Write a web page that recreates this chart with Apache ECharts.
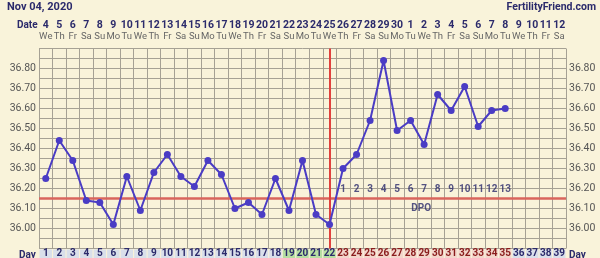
<!DOCTYPE html>
<html><head><meta charset="utf-8">
<style>html,body{margin:0;padding:0;background:#f9f3da;}#c{width:600px;height:258px;}</style>
<script src="https://cdn.jsdelivr.net/npm/echarts@6/dist/echarts.min.js"></script>
</head><body><div id="c"></div>
<script>
var cycleDays = [1,2,3,4,5,6,7,8,9,10,11,12,13,14,15,16,17,18,19,20,21,22,23,24,25,26,27,28,29,30,31,32,33,34,35,36,37,38,39];
var dates = ['4','5','6','7','8','9','10','11','12','13','14','15','16','17','18','19','20','21','22','23','24','25','26','27','28','29','30','1','2','3','4','5','6','7','8','9','10','11','12'];
var weekdays = ['We','Th','Fr','Sa','Su','Mo','Tu','We','Th','Fr','Sa','Su','Mo','Tu','We','Th','Fr','Sa','Su','Mo','Tu','We','Th','Fr','Sa','Su','Mo','Tu','We','Th','Fr','Sa','Su','Mo','Tu','We','Th','Fr','Sa'];
var temps = [36.25,36.44,36.34,36.14,36.13,36.02,36.26,36.09,36.28,36.37,36.26,36.21,36.34,36.27,36.10,36.13,36.07,36.25,36.09,36.34,36.07,36.02,36.30,36.37,36.54,36.84,36.49,36.54,36.42,36.67,36.59,36.71,36.51,36.59,36.60];
var dpoLabels = ['1','2','3','4','5','6','7','8','9','10','11','12','13'];
var dpoStartDay = 23;
var ovulationDay = 22;
var coverline = 36.15;
var fertileDays = [19,20,21,22];
var lutealEnd = 35;
var yTickLabels = ['36.00','36.10','36.20','36.30','36.40','36.50','36.60','36.70','36.80'];

var navy = '#2b2a6b';
var cats = cycleDays.map(String);
var dayRow = cycleDays.map(function(d){
  var bg = '#d9dfea', fc = navy;
  if (fertileDays.indexOf(d) >= 0) { bg = '#b7dea2'; }
  else if (d > ovulationDay && d <= lutealEnd) { bg = '#f3d6cc'; fc = '#8a1c1c'; }
  return {value: 1, itemStyle: {color: bg}, label: {color: fc}};
});
var dpoData = dpoLabels.map(function(t, i){ return {value: [String(dpoStartDay + i), 36.195], name: t}; });

var chart = echarts.init(document.getElementById('c'), null, {renderer: 'canvas'});
function yFmt(v){
  var s = v.toFixed(2);
  return yTickLabels.indexOf(s) >= 0 ? s : '';
}
chart.setOption({
  backgroundColor: '#f9f3da',
  animation: false,
  grid: [
    {left: 39, right: 34, top: 48.5, bottom: 9.5},
    {left: 39, right: 34, top: 249.5, height: 14}
  ],
  xAxis: [
    {type: 'category', gridIndex: 0, data: cats, boundaryGap: true,
     axisLine: {show: false}, axisTick: {show: false}, axisLabel: {show: false},
     splitLine: {show: true, interval: 0, lineStyle: {color: '#a6a194', width: 1}}},
    {type: 'category', gridIndex: 0, position: 'top', data: cats, boundaryGap: true,
     axisLine: {show: false}, axisTick: {show: false}, splitLine: {show: false},
     axisLabel: {interval: 0, margin: 6, formatter: function(v, i){ return '{d|' + dates[i] + '}\n{w|' + weekdays[i] + '}'; },
       rich: {d: {fontFamily: 'Roboto', fontWeight: 'bold', fontSize: 10.5, color: navy, lineHeight: 12},
              w: {fontFamily: 'Roboto', fontSize: 9.5, color: '#666', lineHeight: 11}}}},
    {type: 'category', gridIndex: 1, data: cats, boundaryGap: true,
     axisLine: {show: false}, axisTick: {show: false}, axisLabel: {show: false}, splitLine: {show: false}}
  ],
  yAxis: [
    {type: 'value', gridIndex: 0, min: 35.9, max: 36.9, interval: 0.05,
     axisLine: {show: false}, axisTick: {show: false},
     axisLabel: {formatter: yFmt, margin: 3, fontFamily: 'Roboto', fontSize: 10.5, color: '#555'},
     splitLine: {show: true, lineStyle: {color: '#a6a194', width: 1}}},
    {type: 'value', gridIndex: 0, position: 'right', min: 35.9, max: 36.9, interval: 0.05,
     axisLine: {show: false}, axisTick: {show: false}, splitLine: {show: false},
     axisLabel: {formatter: yFmt, margin: 3, fontFamily: 'Roboto', fontSize: 10.5, color: '#555'}},
    {type: 'value', gridIndex: 1, min: 0, max: 1, show: false}
  ],
  series: [
    {type: 'line', xAxisIndex: 0, yAxisIndex: 0, data: temps, z: 5,
     symbol: 'circle', symbolSize: 7,
     lineStyle: {color: '#4a3cc4', width: 2}, itemStyle: {color: '#4a3cc4'},
     markLine: {silent: true, symbol: 'none', label: {show: false}, z: 3,
       data: [
         {yAxis: coverline, lineStyle: {color: '#d9655c', width: 2.5, type: 'solid'}},
         {xAxis: String(ovulationDay), lineStyle: {color: '#e0413e', width: 2, type: 'solid'}}
       ]}},
    {type: 'scatter', xAxisIndex: 0, yAxisIndex: 0, symbolSize: 0, data: dpoData, z: 6,
     label: {show: true, position: 'inside', formatter: function(p){ return p.name; },
       fontFamily: 'Roboto', fontWeight: 'bold', fontSize: 10, color: navy}},
    {type: 'scatter', xAxisIndex: 0, yAxisIndex: 0, symbolSize: 0, data: [{value: ['29', 36.10], name: 'DPO'}], z: 6,
     label: {show: true, position: 'inside', offset: [-3, 0], formatter: 'DPO',
       fontFamily: 'Roboto', fontWeight: 'bold', fontSize: 10, color: navy}},
    {type: 'bar', xAxisIndex: 2, yAxisIndex: 2, data: dayRow, barCategoryGap: '8%',
     label: {show: true, position: 'inside', formatter: function(p){ return cats[p.dataIndex]; },
       fontFamily: 'Roboto', fontWeight: 'bold', fontSize: 10, offset: [0, 0]}}
  ],
  graphic: [
    {type: 'text', left: 7, top: 2, style: {text: 'Nov 04, 2020', font: 'bold 11px Roboto', fill: navy}},
    {type: 'text', right: 4, top: 2, style: {text: 'FertilityFriend.com', font: 'bold 10.5px Roboto', fill: navy}},
    {type: 'text', left: 17, top: 20, style: {text: 'Date', font: 'bold 10px Roboto', fill: navy}},
    {type: 'text', left: 19, top: 250, style: {text: 'Day', font: 'bold 10px Roboto', fill: navy}},
    {type: 'text', left: 569, top: 250, style: {text: 'Day', font: 'bold 10px Roboto', fill: navy}}
  ]
});
</script></body></html>
